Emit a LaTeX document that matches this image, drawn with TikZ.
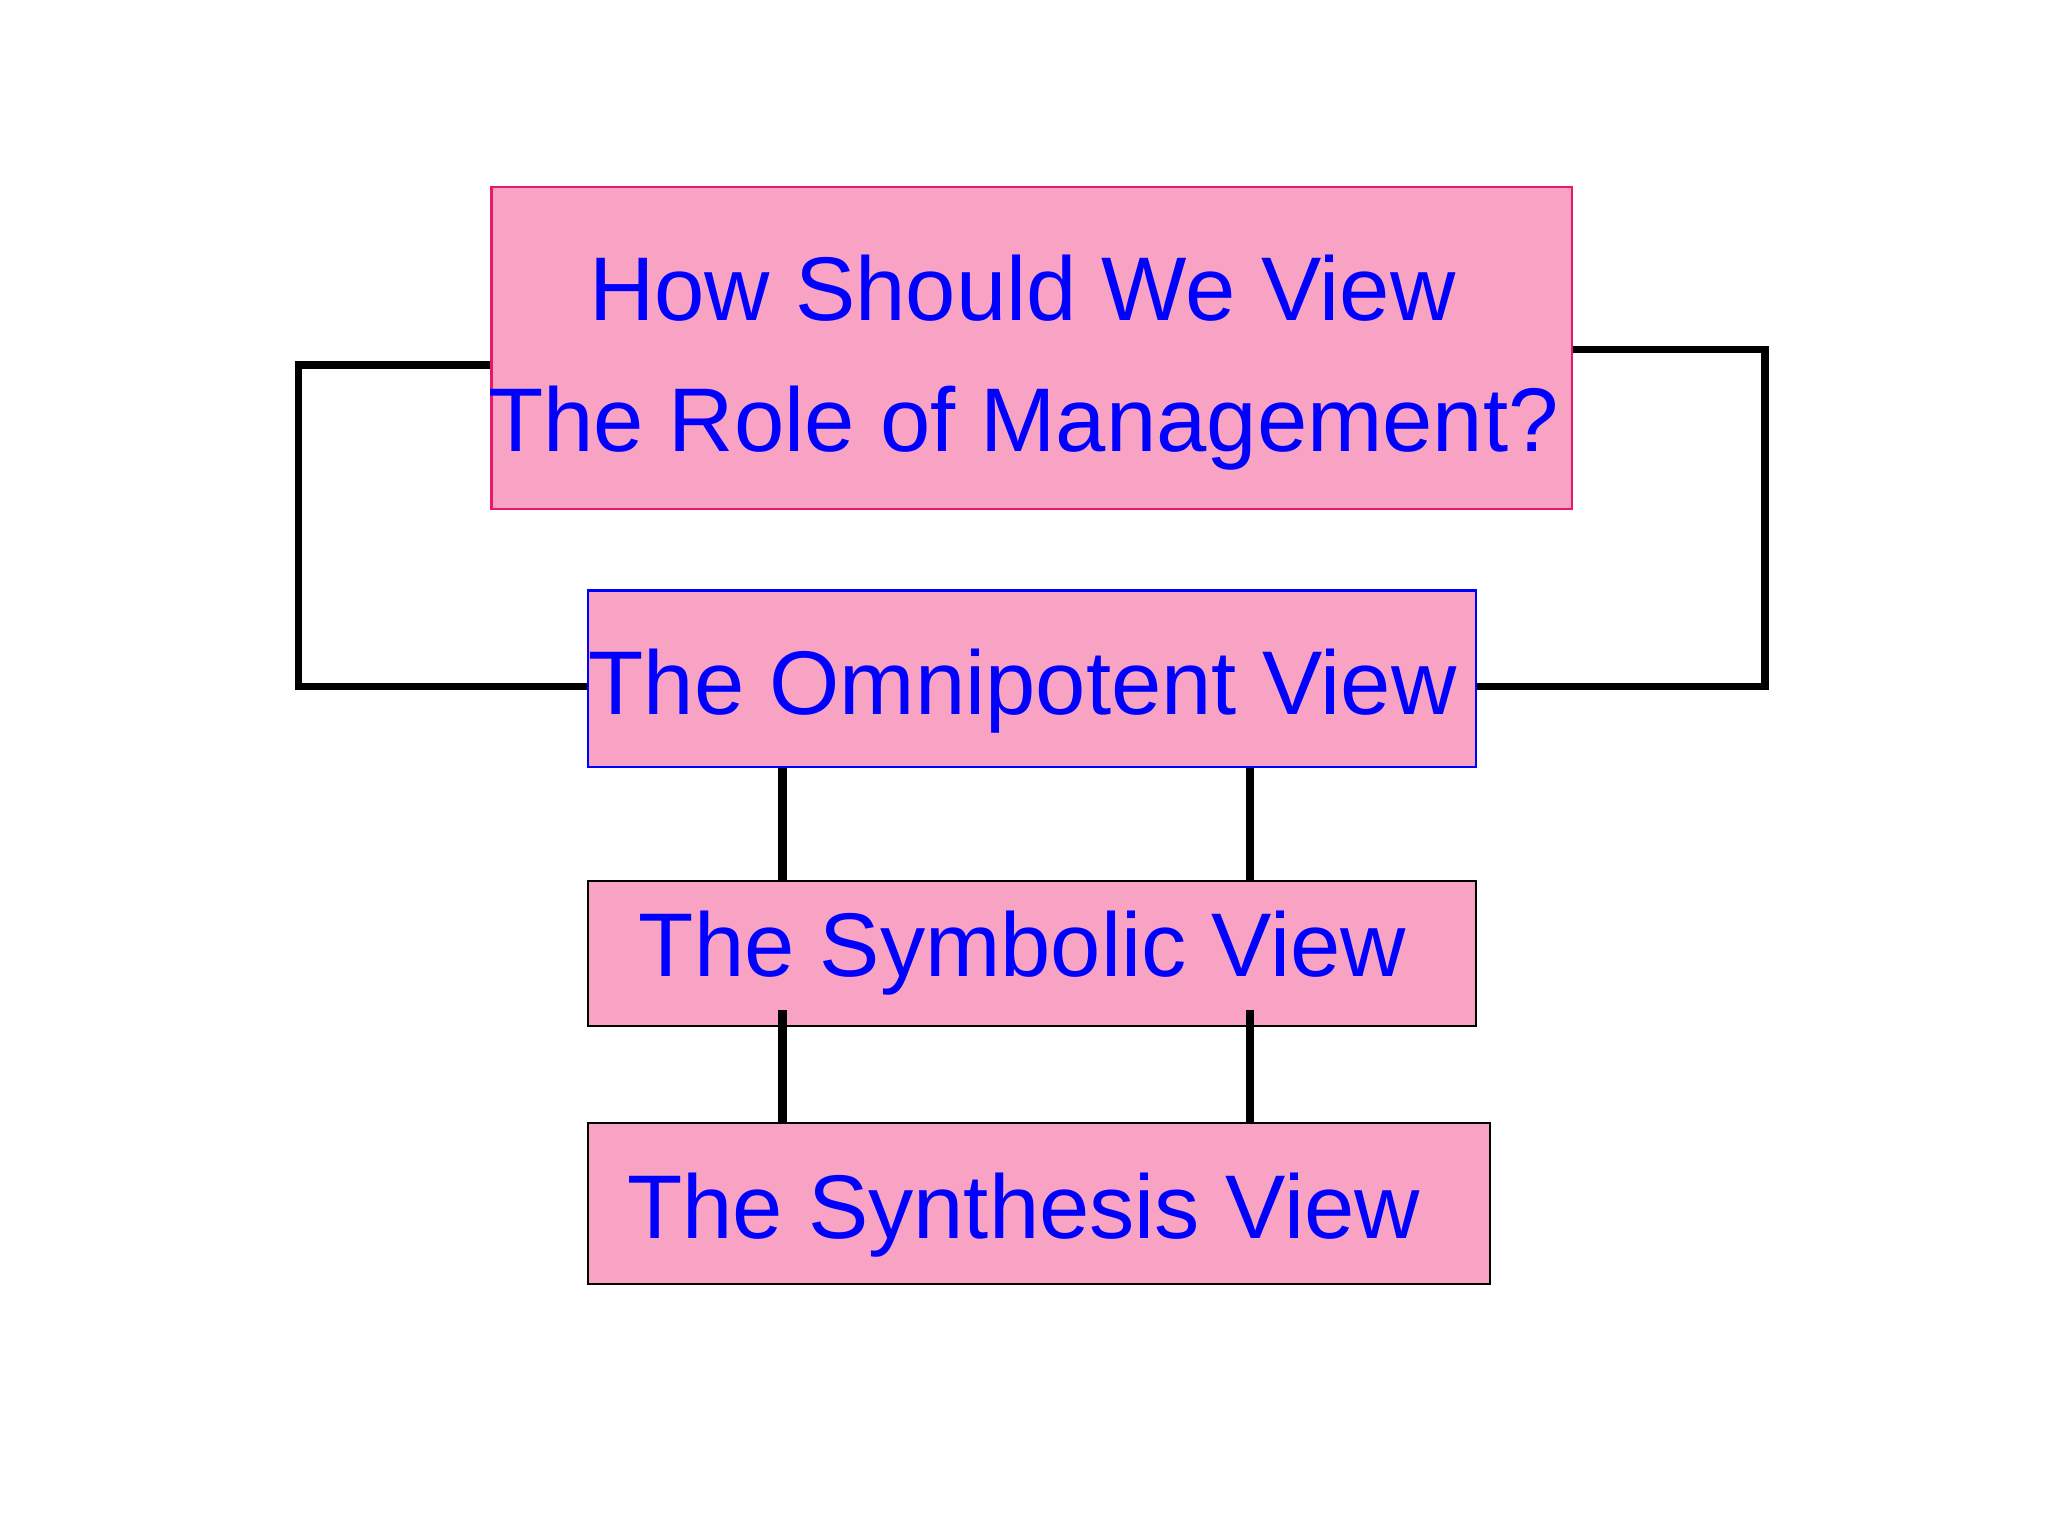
\documentclass[tikz,border=0pt]{standalone}
\usepackage{fontspec}
\setmainfont{Liberation Sans}
\definecolor{boxpink}{RGB}{249,163,196}
\definecolor{boxred}{RGB}{232,24,106}
\definecolor{txtblue}{RGB}{0,0,255}
\tikzset{
  box/.style={draw, fill=boxpink, line width=0.5pt, inner sep=0pt, rectangle},
  lbl/.style={text=txtblue, inner sep=0pt, anchor=base west, font=\fontsize{19.7}{24}\selectfont},
  conn/.style={draw=black, line width=1.6pt},
  vconn/.style={draw=black, line width=1.8pt}
}
\begin{document}
\begin{tikzpicture}[x=0.1mm, y=-0.1mm]
\useasboundingbox (0,0) rectangle (1568,1176);
% boxes
\node[box, draw=boxred, minimum width=827.4mm/10, minimum height=246.5mm/10] (b1) at (790.1,266.65) {};
\node[box, draw=txtblue, minimum width=679.4mm/10, minimum height=135mm/10] (b2) at (790.1,519.5) {};
\node[box, draw=black, minimum width=679.4mm/10, minimum height=110.8mm/10] (b3) at (790.1,729.9) {};
\node[box, draw=black, minimum width=690.6mm/10, minimum height=123mm/10] (b4) at (795.7,921.5) {};
% texts
\node[lbl] (t1a) at (450.5,245.5) {How Should We View};
\node[lbl] (t1b) at (373,345.8) {The Role of Management?};
\node[lbl] (t2) at (450,546.9) {The Omnipotent View};
\node[lbl] (t3) at (488.5,747.7) {The Symbolic View};
\node[lbl] (t4) at (479.5,948.1) {The Synthesis View};
% connector corners
\coordinate (lt) at (228.7,279.5);
\coordinate (lb) at (228.7,525.7);
\coordinate (rt) at (1351.3,267.4);
\coordinate (rb) at (1351.3,525.7);
\coordinate (v1) at (599,773.3);
\coordinate (v2) at (957,773.3);
% loops
\draw[conn] (lt -| b1.west) -- (lt) -- (lb) -- (lb -| b2.west);
\draw[conn] (rt -| b1.east) -- (rt) -- (rb) -- (rb -| b2.east);
% verticals
\draw[vconn] (b2.south -| v1) -- (b3.north -| v1);
\draw[vconn] (b2.south -| v2) -- (b3.north -| v2);
\draw[vconn] (v1) -- (b4.north -| v1);
\draw[vconn] (v2) -- (b4.north -| v2);
\end{tikzpicture}
\end{document}
